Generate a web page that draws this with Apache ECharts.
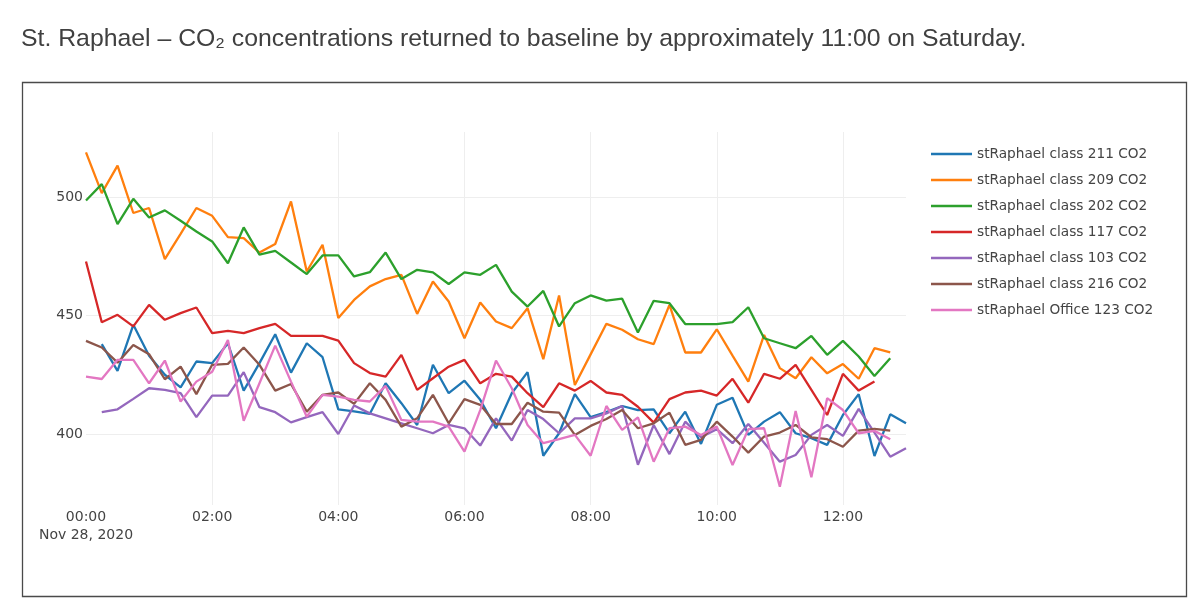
<!DOCTYPE html>
<html>
<head>
<meta charset="utf-8">
<script src="https://cdn.jsdelivr.net/npm/echarts@6/dist/echarts.min.js"></script>
<style>
html,body{margin:0;padding:0;background:#fff;}
#chart{width:1200px;height:616px;}
</style>
</head>
<body>
<div id="chart"></div>
<script>
// x categories: 15-minute samples, Nov 28, 2020
const times = ['00:00','00:15','00:30','00:45','01:00','01:15','01:30','01:45',
  '02:00','02:15','02:30','02:45','03:00','03:15','03:30','03:45',
  '04:00','04:15','04:30','04:45','05:00','05:15','05:30','05:45',
  '06:00','06:15','06:30','06:45','07:00','07:15','07:30','07:45',
  '08:00','08:15','08:30','08:45','09:00','09:15','09:30','09:45',
  '10:00','10:15','10:30','10:45','11:00','11:15','11:30','11:45',
  '12:00','12:15','12:30','12:45','13:00'];
const dateLabel = 'Nov 28, 2020';
const yTicks = [400, 450, 500];

const seriesNames = ['stRaphael class 211 CO2','stRaphael class 209 CO2','stRaphael class 202 CO2',
  'stRaphael class 117 CO2','stRaphael class 103 CO2','stRaphael class 216 CO2','stRaphael Office 123 CO2'];
const seriesColors = ['#1f77b4','#ff7f0e','#2ca02c','#d62728','#9467bd','#8c564b','#e377c2'];

const class211 = [null,437.9,426.6,446.1,433,425,419.7,430.6,429.9,438.3,418.3,429.9,442.1,425.9,438.3,432.4,
  410.4,409.5,408.5,421.4,413,403.8,429.2,417.2,422.5,414.4,402.4,417.2,426.1,390.8,400.3,416.8,
  407.1,409.2,411.8,410.1,410.4,400.3,409.4,395.8,412.3,415.3,399.6,405.2,409.2,400.3,398.2,395.4,
  408,416.8,390.7,408.3,404.5];
const class209 = [518.9,501.7,513.3,493.3,495.4,473.8,484.5,495.4,492.1,483.1,482.7,476.6,480.2,498.2,468.6,479.9,
  449,456.6,462.3,465.4,467.2,450.7,464.4,455.9,440.4,455.5,447.5,444.7,453.1,431.6,458.5,420.7,
  433.6,446.5,444,440,437.9,454.5,434.4,434.4,444.2,433.1,422.1,441.8,427.8,423.5,432.4,425.6,
  429.5,423.3,436.2,434.4];
const class202 = [498.6,505.5,488.6,499.3,491.4,494.4,490,485.5,481.3,472.1,487.2,475.7,477.3,472.4,467.5,475.4,
  475.4,466.5,468.3,476.6,465.4,469.3,468.2,463.3,468.2,467.2,471.4,460.1,453.8,460.4,445.4,455.2,
  458.5,456.3,457.1,442.8,456.2,455.2,446.4,446.4,446.4,447.2,453.5,440.4,438.3,436.2,441.4,433.4,
  439.3,432.7,424.5,432];
const class117 = [472.8,447.2,450.3,445.4,454.5,448.2,451,453.4,442.6,443.5,442.6,444.7,446.5,441.4,441.4,441.4,
  439.4,429.9,425.7,424.2,433.4,418.6,423.5,428.4,431.3,421.4,425.4,424.2,417.2,411.3,421.4,418.3,
  422.4,417.5,416.5,411.5,404.8,414.7,417.5,418.3,416.2,423.3,413.2,425.4,423.3,429.2,418.6,408,
  425.4,418.3,422.1];
const class103 = [null,409.2,410.4,414.8,419.3,418.6,417.2,407.1,416.2,416.2,426.1,411.3,409.2,404.9,407.1,409.2,
  400,412,408.7,406.6,404.5,402.4,400.3,403.8,402.4,395.1,406.6,397.2,410.1,406.3,400.3,406.6,
  406.6,408.7,411.8,387,403.8,391.5,405.2,398.6,402,396.1,404.2,396.3,388.3,391.1,399.6,403.8,
  399.2,410.6,400.6,390.4,394];
const class216 = [439.3,436.5,430.1,437.6,433.7,423.1,428.4,416.8,429.2,429.6,436.5,429.2,418.3,421.1,409.4,416.5,
  417.5,412.7,421.4,414.4,403.1,406.6,416.5,404.5,414.7,412.3,404.2,404.2,413.2,409.4,409,399.6,
  403.4,406.3,410.1,402.4,404.5,409,395.4,397.5,405.2,398.9,392.1,398.9,400.6,403.8,398.6,397.8,
  394.6,401.4,402.1,401.4];
const office123 = [424.2,423.2,431.3,431.3,421.4,431,413.7,422.1,426.3,439.7,405.6,421.4,437.3,422.1,407.3,416.5,
  415.8,414.4,413.7,420.3,405.9,405.2,405.2,403.1,392.5,410.1,431,419.3,403.8,396.1,397.8,399.6,
  390.8,411.8,401.7,407,388.3,402.4,403.1,399.6,403.1,386.9,402,402.4,377.7,409.7,381.7,415.1,
  410.1,400.3,401.3,397.8];

const seriesValues = [class211, class209, class202, class117, class103, class216, office123];

const chart = echarts.init(document.getElementById('chart'), null, {renderer: 'canvas'});
const axisFont = 'DejaVu Sans, Verdana, sans-serif';

chart.setOption({
  animation: false,
  backgroundColor: '#fff',
  title: {
    text: 'St. Raphael – CO₂ concentrations returned to baseline by approximately 11:00 on Saturday.',
    left: 16, top: 22,
    textStyle: {fontFamily: 'Liberation Sans, Arial, sans-serif', fontSize: 24.8, fontWeight: 'normal', color: '#404040'}
  },
  graphic: [{
    type: 'rect', silent: true,
    shape: {x: 22.5, y: 82.5, width: 1164, height: 514},
    style: {fill: 'none', stroke: '#4a4a4a', lineWidth: 1.3}
  }],
  legend: {
    orient: 'vertical', left: 926, top: 141,
    icon: 'rect', itemWidth: 41, itemHeight: 2.4, itemGap: 10,
    data: seriesNames,
    textStyle: {fontFamily: axisFont, fontSize: 13.7, color: '#444', lineHeight: 16}
  },
  grid: {left: 86, right: 294, top: 132, bottom: 111, containLabel: false},
  xAxis: {
    type: 'category', boundaryGap: false, data: times,
    axisLine: {show: false}, axisTick: {show: false},
    axisLabel: {
      interval: 7, margin: 3, color: '#444', fontFamily: axisFont, fontSize: 14, lineHeight: 18,
      formatter: (v, i) => i === 0 ? v + '\n' + dateLabel : v
    },
    splitLine: {show: true, interval: 7, showMinLine: false, lineStyle: {color: '#eee', width: 1}}
  },
  yAxis: {
    type: 'value', min: 370, max: 527.5, minInterval: 50, maxInterval: 50,
    axisLine: {show: false}, axisTick: {show: false},
    axisLabel: {
      margin: 3, color: '#444', fontFamily: axisFont, fontSize: 14,
      showMinLabel: false, showMaxLabel: false,
      formatter: v => yTicks.indexOf(v) >= 0 ? String(v) : ''
    },
    splitLine: {show: true, showMinLine: false, showMaxLine: false, lineStyle: {color: '#eee', width: 1}}
  },
  series: seriesNames.map((name, k) => ({
    name: name, type: 'line', data: seriesValues[k],
    symbol: 'none', showSymbol: false,
    color: seriesColors[k],
    itemStyle: {color: seriesColors[k]},
    lineStyle: {color: seriesColors[k], width: 2.3},
    emphasis: {disabled: true}
  }))
});
</script>
</body>
</html>
